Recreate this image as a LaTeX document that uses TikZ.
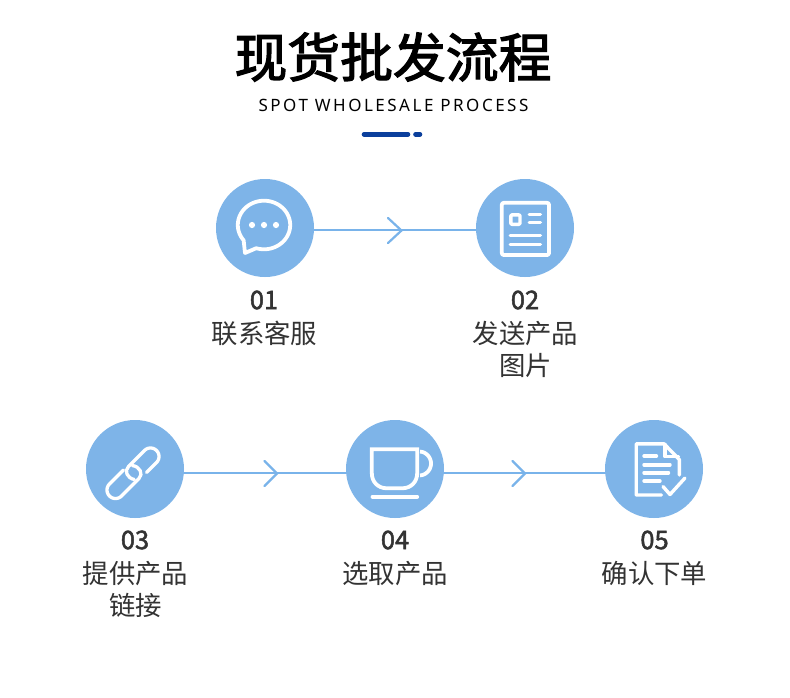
\documentclass[tikz,border=0pt]{standalone}
\usepackage{fontspec}
\newfontfamily\cjk{Noto Sans CJK SC}
\newfontfamily\cjkmid[FakeBold=2.4]{Noto Sans CJK SC}
\newfontfamily\latinf[LetterSpace=14.7]{Noto Sans}
\newfontfamily\numf[FakeBold=1.9]{Noto Sans CJK SC}
\definecolor{disc}{HTML}{7EB4E8}
\definecolor{flowc}{HTML}{79B3EA}
\definecolor{barc}{HTML}{0B3F9C}
\definecolor{ink}{HTML}{333333}
\tikzset{
  disc/.style={circle,fill=disc,draw=none,minimum size=98pt,inner sep=0pt},
  flow/.style={draw=flowc,line width=2pt},
  chev/.style={draw=flowc,line width=2.2pt,line cap=round,line join=miter},
  glyph/.style={draw=white,line width=3.8pt,line cap=round,line join=round},
  numlabel/.style={font=\numf\fontsize{25.5}{25}\selectfont,text=ink,inner sep=0pt},
  textlabel/.style={font=\cjk\fontsize{26.4}{32}\selectfont,text=ink,inner sep=0pt,align=center,anchor=north},
}
\begin{document}
\begin{tikzpicture}[x=1pt,y=-1pt]
\useasboundingbox[fill=white] (0,0) rectangle (790,697);
% heading
\node[font=\cjkmid\fontsize{52.8}{53}\selectfont,text=black,inner sep=0pt] (title) at (393,57) {现货批发流程};
\node[font=\latinf\fontsize{17}{17}\selectfont,text=black,inner sep=0pt] (sub) at (393.5,105) {SPOT WHOLESALE PROCESS};
\draw[barc,line width=4.6pt,line cap=round] (364,134.3) -- (408,134.3);
\draw[barc,line width=4.6pt,line cap=round] (415.5,134.3) -- (420,134.3);
% step discs and connectors
\node[disc] (c1) at (265,228) {};
\node[disc] (c2) at (525,228) {};
\node[disc] (c3) at (135,469) {};
\node[disc] (c4) at (395,469) {};
\node[disc] (c5) at (654,469) {};
\draw[flow] ([yshift=-2pt]c1.east) -- ([yshift=-2pt]c2.west);
\draw[flow] ([yshift=-4pt]c3.east) -- ([yshift=-4pt]c4.west);
\draw[flow] ([yshift=-4pt]c4.east) -- ([yshift=-4pt]c5.west);
\draw[chev] (388,218) -- (401.5,230.5) -- (388,243);
\draw[chev] (264.5,461) -- (277,473.5) -- (264.5,486);
\draw[chev] (512.5,461) -- (525,473.5) -- (512.5,486);
% chat icon
\draw[glyph] (245,253) -- (256,248.3)
  -- plot[domain=108:-219,samples=80] ({264+26.2*cos(\x)},{225+24.3*sin(\x)}) -- cycle;
\fill[white] (252,225) circle[radius=3.1] (264,225) circle[radius=3.1] (276,225) circle[radius=3.1];
% news icon
\draw[glyph,rounded corners=2pt] (501.8,202.8) rectangle (549,255);
\draw[glyph,line width=3.4pt,rounded corners=1pt] (510.8,214.9) rectangle (520,224.3);
\draw[glyph,line width=3pt] (529,214.4) -- (540.5,214.4);
\draw[glyph,line width=3pt] (529,222.8) -- (540.5,222.8);
\draw[glyph,line width=3pt] (510,235.3) -- (540.5,235.3);
\draw[glyph,line width=3pt] (510,244) -- (540.5,244);
% link icon
\draw[glyph,line width=3.3pt] (146.5,472.5) -- (156.5,462.5)
  -- plot[domain=45:-135,samples=30] ({150.5+8.5*cos(\x)},{456.5+8.5*sin(\x)})
  -- (128.5,466.5) .. controls (124,471) and (127,478) .. (134.3,479.5);
\draw[glyph,line width=3.3pt] (123.5,470) -- (109.5,484)
  -- plot[domain=225:45,samples=30] ({115.5+8.5*cos(\x)},{490+8.5*sin(\x)})
  -- (139,478.5) .. controls (143.5,474) and (140,466.5) .. (132.3,465.5);
% cup icon
\draw[glyph,line cap=butt,line join=miter] (371.8,449.2) -- (417.2,449.2) -- (417.2,473)
  .. controls (417.2,482) and (411,488.3) .. (402,488.3) -- (387,488.3)
  .. controls (378,488.3) and (371.8,482) .. (371.8,473) -- cycle;
\draw[glyph,line cap=butt] plot[domain=-85:85,samples=30] ({419+12*cos(\x)},{463.5+12*sin(\x)});
\draw[glyph] (372.5,496.7) -- (417.2,496.7);
% document icon
\draw[glyph,line width=3.4pt] (679.3,475) -- (679.3,459.5) -- (664,443.8) -- (636.2,443.8) -- (636.2,495) -- (661.5,495);
\draw[glyph,line width=3.4pt] (665,444.5) -- (665,456.7) -- (678.5,456.7);
\draw[glyph,line width=3.4pt] (644,456) -- (656.5,456);
\draw[glyph,line width=3.4pt] (644,464.8) -- (670,464.8);
\draw[glyph,line width=3.4pt] (644,472.8) -- (668.5,472.8);
\draw[glyph,line width=3.4pt] (644,481) -- (660,481);
\draw[glyph,line width=3.4pt] (663,486.5) -- (670,494.5) -- (685,478);
% labels
\node[numlabel] (n1) at (264,300) {01};
\node[numlabel] (n2) at (525,300) {02};
\node[numlabel] (n3) at (135,540) {03};
\node[numlabel] (n4) at (395,540) {04};
\node[numlabel] (n5) at (654.5,540) {05};
\node[textlabel] (t1) at (264.5,321.3) {联系客服};
\node[textlabel] (t2) at (525.5,321.3) {发送产品\\图片};
\node[textlabel] (t3) at (135.5,560.8) {提供产品\\链接};
\node[textlabel] (t4) at (395,560.8) {选取产品};
\node[textlabel] (t5) at (654.5,560.8) {确认下单};
\end{tikzpicture}
\end{document}
